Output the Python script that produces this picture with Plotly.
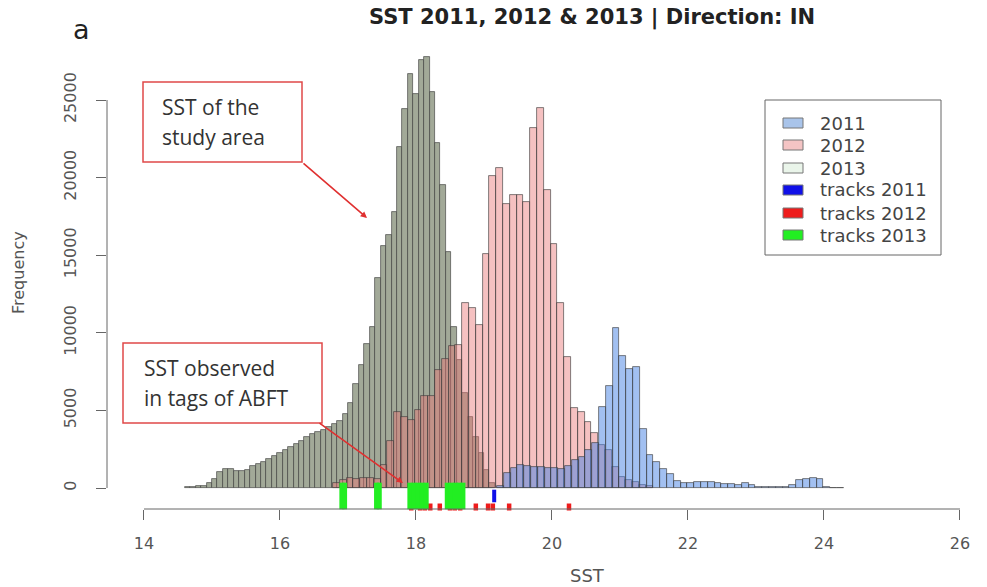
import plotly.graph_objects as go

# ---------------- data ----------------
# 2013 histogram (grey) : bins of 0.08 starting at 14.60
SST_2013_START = 14.60
SST_2013_WIDTH = 0.08
FREQ_2013 = [50, 80, 100, 150, 350, 600, 1000, 1250, 1230, 1100, 1080, 1190, 1390, 1520,
             1700, 1880, 2050, 2270, 2460, 2630, 2830, 3050, 3300, 3500, 3640, 3750, 3930,
             4150, 4320, 4800, 5500, 6700, 7900, 9300, 10400, 13500, 15600, 16300, 17800,
             22000, 24400, 26700, 25400, 27600, 27750, 25500, 22200, 19500, 15200, 10400,
             8250, 6100, 4600, 3300, 2240, 1160, 300]

# 2012 histogram (pink) : bins of 0.1 starting at 16.78
SST_2012_START = 16.78
SST_2012_WIDTH = 0.1
FREQ_2012 = [340, 500, 620, 560, 620, 650, 550, 1500, 3000, 4900, 4600, 4400, 5000, 5900,
             5900, 7600, 8300, 9150, 9200, 11900, 11600, 10500, 15100, 20100, 20600, 18300,
             18900, 18900, 18450, 23200, 24500, 19200, 15700, 11900, 8460, 5130, 4900, 4270,
             3520, 2800, 2450, 1370, 730, 515, 400, 190, 100]

# 2011 histogram (blue) : bins of 0.1 starting at 19.19
SST_2011_START = 19.19
SST_2011_WIDTH = 0.1
FREQ_2011 = [100, 950, 1270, 1480, 1400, 1350, 1350, 1270, 1270, 1200, 1450, 1800, 2020,
             2450, 2880, 5240, 6570, 10290, 8500, 7700, 7800, 3780, 2100, 1700, 1250, 900,
             420, 350, 330, 380, 400, 370, 340, 280, 240, 220, 330, 200, 80, 60, 50, 50, 60,
             200, 500, 600, 640, 550, 40, 20, 15]

TRACKS_2011 = [19.15]
TRACKS_2012 = [17.93, 18.06, 18.13, 18.21, 18.35, 18.50, 18.57, 18.65, 18.88, 19.06, 19.13,
               19.37, 20.25]
TRACKS_2013 = [16.91, 16.95, 17.42, 17.46, 17.91, 17.97, 18.03, 18.09, 18.15,
               18.46, 18.52, 18.58, 18.64, 18.69]

X_TICKS = [14, 16, 18, 20, 22, 24, 26]
Y_TICKS = [0, 5000, 10000, 15000, 20000, 25000]
LEGEND_LABELS = ["2011", "2012", "2013", "tracks 2011", "tracks 2012", "tracks 2013"]

# ---------------- layout geometry ----------------
W, H = 987, 587
L, R, T, B = 107, 0, 40, 78
PW, PH = W - L - R, H - T - B
X_RANGE = [13.456, 13.456 + PW / 68.0]
Y_RANGE = [-1353, 28866]


def px(xp):
    return (xp - L) / PW


def py(yp):
    return (H - B - yp) / PH


FONT = "DejaVu Sans"
BOXFONT = "Open Sans"

C2013 = "rgb(162,169,152)"
C2012 = "rgba(232,118,118,0.45)"
C2011 = "rgba(70,130,228,0.5)"
EDGE = "rgba(60,60,60,0.8)"

fig = go.Figure()


def add_hist(start, width, counts, color):
    xs = [start + width * (i + 0.5) for i in range(len(counts))]
    fig.add_trace(go.Bar(x=xs, y=counts, width=width,
                         marker=dict(color=color, line=dict(color=EDGE, width=0.8)),
                         hoverinfo="skip"))


add_hist(SST_2013_START, SST_2013_WIDTH, FREQ_2013, C2013)
add_hist(SST_2012_START, SST_2012_WIDTH, FREQ_2012, C2012)
add_hist(SST_2011_START, SST_2011_WIDTH, FREQ_2011, C2011)

# rug-like track marks
RUG_Y_UPPER = -515
RUG_Y_LOWER = -1224
fig.add_trace(go.Scatter(x=TRACKS_2011, y=[RUG_Y_UPPER] * len(TRACKS_2011), mode="markers",
                         marker=dict(symbol="line-ns", size=9,
                                     line=dict(width=4, color="#1010e8")),
                         cliponaxis=False, hoverinfo="skip"))
fig.add_trace(go.Scatter(x=TRACKS_2012, y=[RUG_Y_LOWER] * len(TRACKS_2012), mode="markers",
                         marker=dict(symbol="line-ns", size=5,
                                     line=dict(width=4.5, color="#ee1c1c")),
                         cliponaxis=False, hoverinfo="skip"))
fig.add_trace(go.Scatter(x=TRACKS_2013, y=[RUG_Y_UPPER] * len(TRACKS_2013), mode="markers",
                         marker=dict(symbol="line-ns", size=19,
                                     line=dict(width=5, color="#22ee22")),
                         cliponaxis=False, hoverinfo="skip"))

shapes = []
annotations = []

# R-style axis lines
shapes.append(dict(type="line", xref="x", yref="paper", x0=X_TICKS[0], x1=X_TICKS[-1],
                   y0=0, y1=0, line=dict(color="#666", width=1)))
shapes.append(dict(type="line", xref="paper", yref="y", x0=0, x1=0,
                   y0=Y_TICKS[0], y1=Y_TICKS[-1], line=dict(color="#666", width=1)))

# legend box
shapes.append(dict(type="rect", xref="paper", yref="paper", x0=px(765), x1=px(941),
                   y0=py(255), y1=py(100), line=dict(color="#666", width=1),
                   fillcolor="white"))
LEG_FILL = ["#a9c4ea", "#f4c4c4", "#eaf5ea", "#1010e8", "#ee1c1c", "#22ee22"]
LEG_ROWS = [123, 145, 168, 190, 213, 235]
for lab, col, yr in zip(LEGEND_LABELS, LEG_FILL, LEG_ROWS):
    shapes.append(dict(type="rect", xref="paper", yref="paper", x0=px(783), x1=px(803),
                       y0=py(yr + 5), y1=py(yr - 5), fillcolor=col,
                       line=dict(color="#777", width=1)))
    annotations.append(dict(xref="paper", yref="paper", x=px(818), y=py(yr), text=lab,
                            showarrow=False, xanchor="left", yanchor="middle",
                            font=dict(family=FONT, size=18, color="#444")))

# callout boxes
BOX_RED = "#e04848"
shapes.append(dict(type="rect", xref="paper", yref="paper", x0=px(143), x1=px(302),
                   y0=py(162), y1=py(82), line=dict(color=BOX_RED, width=1.5),
                   fillcolor="white"))
shapes.append(dict(type="rect", xref="paper", yref="paper", x0=px(123), x1=px(322),
                   y0=py(423), y1=py(343), line=dict(color=BOX_RED, width=1.5),
                   fillcolor="white"))
for txt, xl, yc in [("SST of the", 160, 107), ("study area", 160, 137),
                    ("SST observed", 142, 368), ("in tags of ABFT", 142, 398)]:
    annotations.append(dict(xref="paper", yref="paper", x=px(xl), y=py(yc), text=txt,
                            showarrow=False, xanchor="left", yanchor="middle",
                            font=dict(family=BOXFONT, size=21, color="#333")))

# arrows
for (hx, hy, tx, ty) in [(367, 218, 302, 162), (403, 483, 318, 422)]:
    annotations.append(dict(xref="paper", yref="paper", x=px(hx), y=py(hy), text="",
                            showarrow=True, ax=tx - hx, ay=ty - hy, arrowhead=2,
                            arrowsize=0.8, arrowwidth=1.6, arrowcolor="#e03030",
                            standoff=0))

# title, panel letter, axis titles
annotations.append(dict(xref="paper", yref="paper", x=px(592), y=py(18),
                        text="<b>SST 2011, 2012 & 2013 | Direction: IN</b>", showarrow=False,
                        xanchor="center", yanchor="middle",
                        font=dict(family=FONT, size=21, color="#222")))
annotations.append(dict(xref="paper", yref="paper", x=px(81), y=py(30), text="a",
                        showarrow=False, xanchor="center", yanchor="middle",
                        font=dict(family=FONT, size=27, color="#222")))
annotations.append(dict(xref="paper", yref="paper", x=px(587), y=py(575), text="SST",
                        showarrow=False, xanchor="center", yanchor="middle",
                        font=dict(family=FONT, size=18, color="#555")))
annotations.append(dict(xref="paper", yref="paper", x=px(18), y=py(273), text="Frequency",
                        showarrow=False, xanchor="center", yanchor="middle", textangle=-90,
                        font=dict(family=FONT, size=16, color="#555")))

fig.update_layout(
    width=W, height=H,
    margin=dict(l=L, r=R, t=T, b=B),
    paper_bgcolor="white", plot_bgcolor="white",
    barmode="overlay", bargap=0, showlegend=False,
    shapes=shapes, annotations=annotations,
    xaxis=dict(range=X_RANGE, tickvals=X_TICKS, ticktext=[str(v) for v in X_TICKS],
               ticks="outside", ticklen=10,
               tickwidth=1, tickcolor="#666", showgrid=False, zeroline=False,
               showline=False, ticklabelstandoff=10,
               tickfont=dict(family=FONT, size=16, color="#555")),
    yaxis=dict(range=Y_RANGE, tickvals=Y_TICKS, ticktext=[str(v) for v in Y_TICKS],
               ticks="outside", ticklen=10,
               tickwidth=1, tickcolor="#666", showgrid=False, zeroline=False,
               showline=False, tickangle=-90, ticklabelstandoff=14,
               tickfont=dict(family=FONT, size=16, color="#555")),
)

fig.write_html("out.html")
